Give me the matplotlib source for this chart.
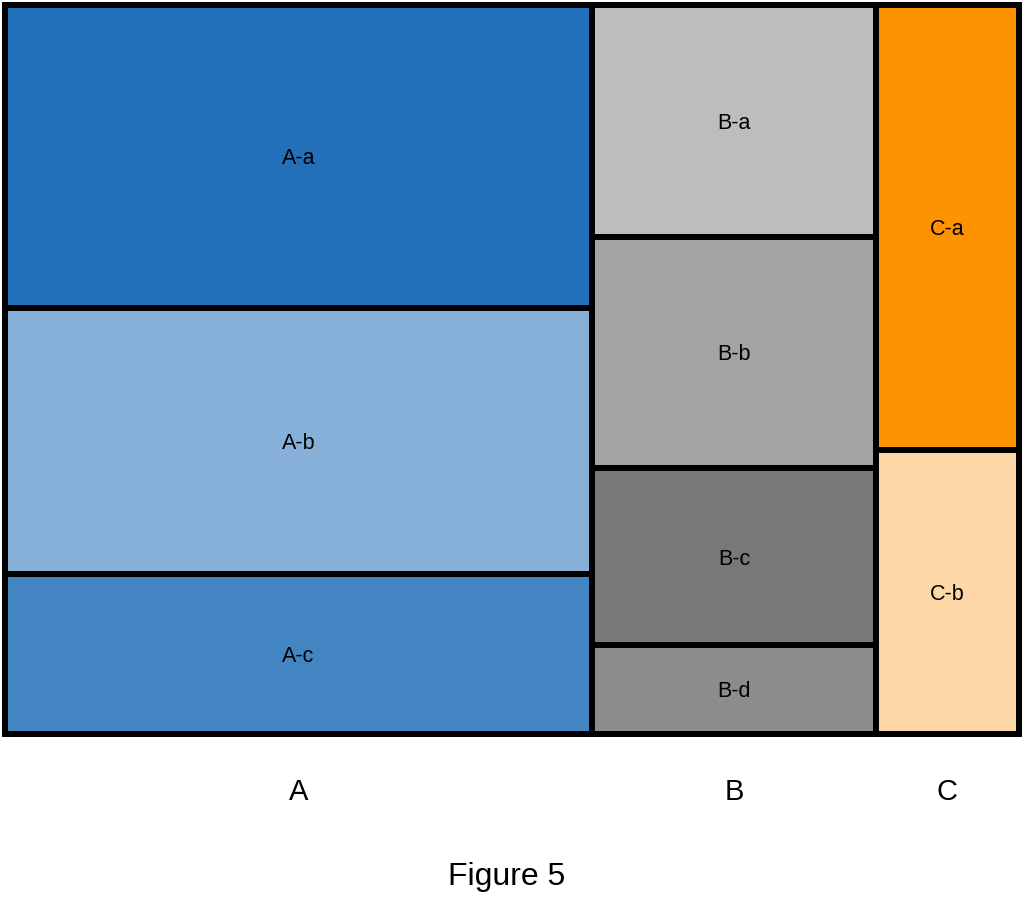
import matplotlib
matplotlib.use("Agg")
import matplotlib.pyplot as plt
from matplotlib.patches import Rectangle

# Data
groups = ["A", "B", "C"]
subgroups = {
    "A": ["A-a", "A-b", "A-c"],
    "B": ["B-a", "B-b", "B-c", "B-d"],
    "C": ["C-a", "C-b"],
}
values = {
    "A": [24.1, 21.2, 12.7],
    "B": [8.9, 8.9, 6.8, 3.4],
    "C": [8.6, 5.5],
}
colors = {
    "A": ["#2170b9", "#86b0d8", "#4384c3"],
    "B": ["#bdbdbd", "#a3a3a3", "#787878", "#8c8c8c"],
    "C": ["#ff9200", "#fed7a8"],
}
title = "Figure 5"

plt.rcParams["font.family"] = ["Liberation Sans", "DejaVu Sans"]
fig = plt.figure(figsize=(10.24, 9.08), dpi=100)
ax = fig.add_axes([5 / 1024, 174 / 908, 1013.5 / 1024, 729 / 908])
ax.set_xlim(0, 1)
ax.set_ylim(0, 1)
ax.axis("off")

total = sum(sum(v) for v in values.values())
x0 = 0.0
for g in groups:
    vals = values[g]
    gsum = sum(vals)
    w = gsum / total
    ytop = 1.0
    for name, v, c in zip(subgroups[g], vals, colors[g]):
        h = v / gsum
        ax.add_patch(Rectangle((x0, ytop - h), w, h, facecolor=c,
                               edgecolor="black", linewidth=4.3, clip_on=False))
        ax.text(x0 + w / 2, ytop - h / 2 - 0.003, name, ha="center", va="center",
                fontsize=15.5, color="black")
        ytop -= h
    ax.text(x0 + w / 2, -0.079, g, ha="center", va="center", fontsize=21,
            color="black")
    x0 += w

fig.text(507 / 1024, 1 - 877 / 908, title, ha="center", va="center", fontsize=23)
fig.savefig("out.png", dpi=100)
